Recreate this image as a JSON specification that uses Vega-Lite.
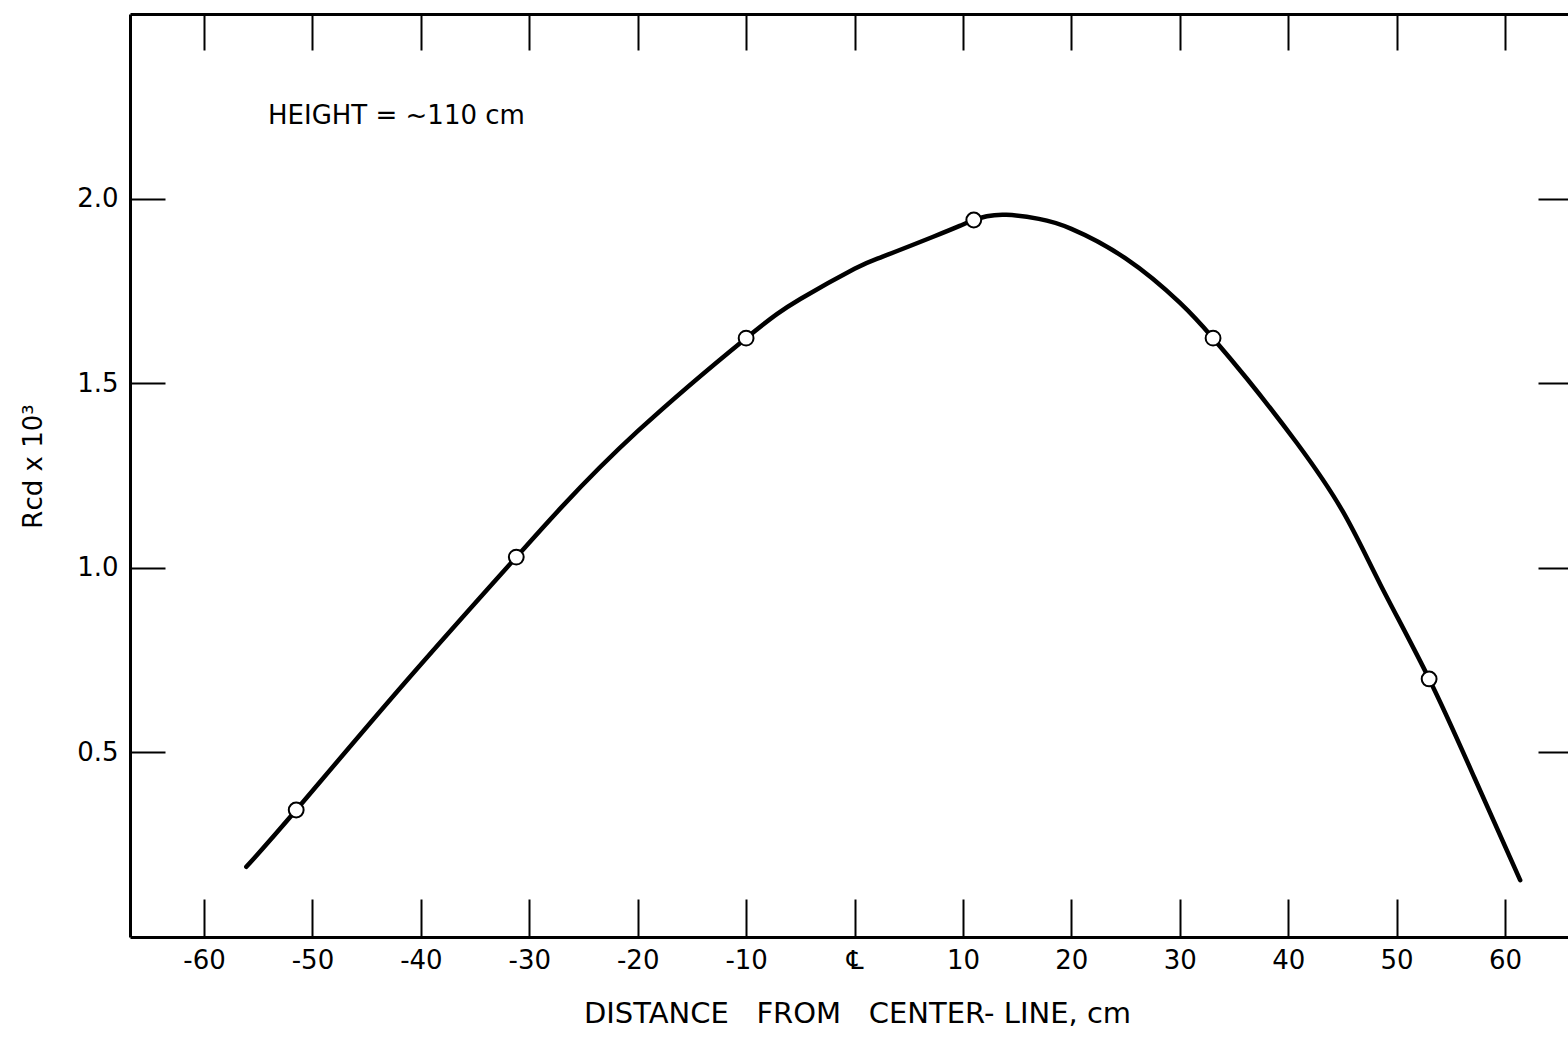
{
  "$schema": "https://vega.github.io/schema/vega-lite/v6.json",
  "width": 1438,
  "height": 923,
  "autosize": {"type": "none"},
  "padding": {"left": 130, "top": 14, "right": 0, "bottom": 101},
  "background": "white",
  "config": {
    "view": {"stroke": null},
    "font": "DejaVu Sans",
    "axis": {
      "grid": false,
      "domainColor": "black",
      "domainWidth": 3,
      "tickColor": "black",
      "tickWidth": 2,
      "labelColor": "black",
      "labelFont": "DejaVu Sans",
      "labelFontSize": 26,
      "labelFlush": false,
      "labelOverlap": false,
      "titleColor": "black",
      "titleFont": "DejaVu Sans",
      "titleFontWeight": "normal"
    }
  },
  "datasets": {
    "curve": [
      {"distance": -56.1, "rcd": 0.19},
      {"distance": -51.5, "rcd": 0.344},
      {"distance": -41.5, "rcd": 0.688},
      {"distance": -31.2, "rcd": 1.029},
      {"distance": -27.0, "rcd": 1.165},
      {"distance": -20.0, "rcd": 1.37},
      {"distance": -10.0, "rcd": 1.622},
      {"distance": -5.0, "rcd": 1.728},
      {"distance": 0.0, "rcd": 1.81},
      {"distance": 2.6, "rcd": 1.843},
      {"distance": 7.2, "rcd": 1.896},
      {"distance": 9.7, "rcd": 1.926},
      {"distance": 11.0, "rcd": 1.942},
      {"distance": 12.2, "rcd": 1.952},
      {"distance": 14.0, "rcd": 1.956},
      {"distance": 17.0, "rcd": 1.945},
      {"distance": 20.0, "rcd": 1.918},
      {"distance": 25.0, "rcd": 1.838},
      {"distance": 30.0, "rcd": 1.718},
      {"distance": 33.07, "rcd": 1.622},
      {"distance": 36.2, "rcd": 1.512},
      {"distance": 40.8, "rcd": 1.338},
      {"distance": 45.05, "rcd": 1.152},
      {"distance": 48.5, "rcd": 0.955},
      {"distance": 53.0, "rcd": 0.699},
      {"distance": 57.2, "rcd": 0.43},
      {"distance": 61.4, "rcd": 0.154}
    ],
    "measured": [
      {"distance": -51.5, "rcd": 0.344},
      {"distance": -31.2, "rcd": 1.029},
      {"distance": -10.0, "rcd": 1.622},
      {"distance": 11.0, "rcd": 1.942},
      {"distance": 33.07, "rcd": 1.622},
      {"distance": 53.0, "rcd": 0.699}
    ],
    "note": [
      {"distance": -54.1, "rcd": 2.224, "label": "HEIGHT = ~110 cm"}
    ]
  },
  "layer": [
    {
      "data": {"name": "curve"},
      "mark": {"type": "line", "interpolate": "natural", "color": "black", "strokeWidth": 4.5, "strokeCap": "round"},
      "encoding": {
        "x": {
          "field": "distance", "type": "quantitative",
          "scale": {"domain": [-66.83, 65.81], "nice": false, "zero": false},
          "axis": {
            "orient": "bottom",
            "values": [-60, -50, -40, -30, -20, -10, 0, 10, 20, 30, 40, 50, 60],
            "tickSize": -38,
            "labelPadding": 48,
            "labelExpr": "datum.value == 0 ? '℄' : '' + datum.value",
            "title": "DISTANCE\u00a0\u00a0\u00a0FROM\u00a0\u00a0\u00a0CENTER-\u00a0LINE,\u00a0cm",
            "titleFontSize": 29,
            "titlePadding": 26,
            "titleX": 727
          }
        },
        "y": {
          "field": "rcd", "type": "quantitative",
          "scale": {"domain": [0, 2.5], "nice": false, "zero": false},
          "axis": {
            "orient": "left",
            "values": [0.5, 1.0, 1.5, 2.0],
            "format": ".1f",
            "tickSize": -35,
            "labelPadding": 47,
            "title": "Rcd x 10³",
            "titleFontSize": 26,
            "titlePadding": 30,
            "titleY": 452
          }
        }
      }
    },
    {
      "data": {"name": "measured"},
      "mark": {"type": "point", "shape": "circle", "filled": true, "fill": "white", "stroke": "black", "strokeWidth": 2, "size": 220, "opacity": 1},
      "encoding": {
        "x": {
          "field": "distance", "type": "quantitative",
          "axis": {
            "orient": "top",
            "values": [-60, -50, -40, -30, -20, -10, 0, 10, 20, 30, 40, 50, 60],
            "tickSize": -36,
            "labels": false,
            "title": null
          }
        },
        "y": {
          "field": "rcd", "type": "quantitative",
          "axis": {
            "orient": "right",
            "values": [0.5, 1.0, 1.5, 2.0],
            "tickSize": -30,
            "domain": false,
            "labels": false,
            "title": null
          }
        }
      }
    },
    {
      "data": {"name": "note"},
      "mark": {"type": "text", "align": "left", "baseline": "middle", "fontSize": 26, "font": "DejaVu Sans", "color": "black"},
      "encoding": {
        "x": {"field": "distance", "type": "quantitative", "axis": null},
        "y": {"field": "rcd", "type": "quantitative", "axis": null},
        "text": {"field": "label"}
      }
    }
  ],
  "resolve": {"axis": {"x": "independent", "y": "independent"}}
}
